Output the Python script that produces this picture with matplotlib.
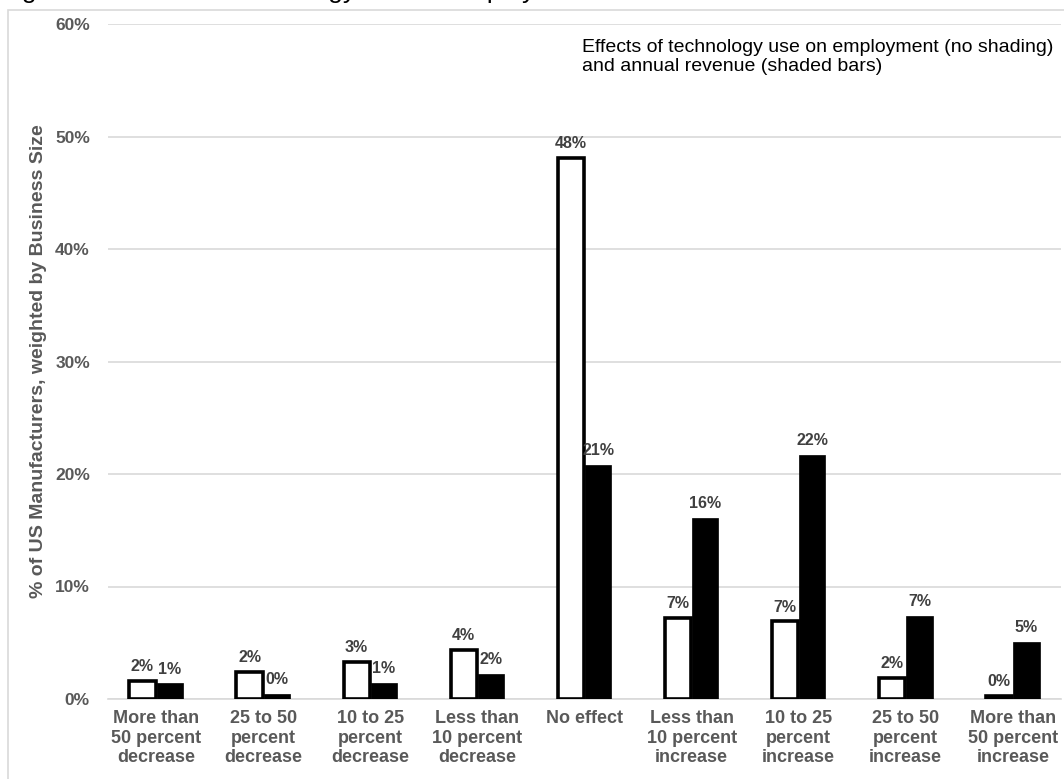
import matplotlib
matplotlib.use("Agg")
import matplotlib.pyplot as plt
from matplotlib.patches import Rectangle
import numpy as np

plt.rcParams['font.family'] = ['Liberation Sans', 'DejaVu Sans']

categories = ["More than\n50 percent\ndecrease", "25 to 50\npercent\ndecrease",
              "10 to 25\npercent\ndecrease", "Less than\n10 percent\ndecrease",
              "No effect", "Less than\n10 percent\nincrease", "10 to 25\npercent\nincrease",
              "25 to 50\npercent\nincrease", "More than\n50 percent\nincrease"]
employment = [0.016, 0.024, 0.033, 0.044, 0.481, 0.072, 0.069, 0.019, 0.003]
revenue = [0.014, 0.0048, 0.0145, 0.022, 0.208, 0.161, 0.217, 0.074, 0.051]
yticks = [0, 0.1, 0.2, 0.3, 0.4, 0.5, 0.6]

W, H = 1064, 779
fig = plt.figure(figsize=(W / 100, H / 100), dpi=100)

# caption line above the chart frame, mostly cut off by the page edge
fig.text(0.0, 1 + 2 / H, "Figure 3: Effects of technology use on employment and annual revenue of US manufacturers",
         fontsize=19, va='baseline', ha='left', color='black')

# chart frame
fig.patches.append(Rectangle((8 / W, -0.1), 1.2, 1 - 10 / H + 0.1, transform=fig.transFigure,
                             fill=False, edgecolor='#d9d9d9', linewidth=1.2, zorder=0))

ax = fig.add_axes([108 / W, 1 - 699 / H, (1061 - 108) / W, (699 - 24) / H])
x = np.arange(len(categories))
bw = 0.245
off = 0.128
b1 = ax.bar(x - off, employment, bw, facecolor='white', edgecolor='black', linewidth=2.6, zorder=3)
b2 = ax.bar(x + off, revenue, bw, facecolor='black', edgecolor='black', linewidth=0.5, zorder=3)

for bars, vals in ((b1, employment), (b2, revenue)):
    for rect, v in zip(bars, vals):
        ax.text(rect.get_x() + rect.get_width() / 2, v + 0.006, f"{v:.0%}",
                ha='center', va='bottom', fontsize=11.5, fontweight='bold', color='#404040')

ax.set_xlim(-0.45, 8.45)
ax.set_ylim(0, 0.6)
ax.set_yticks(yticks)
ax.set_yticklabels([f"{t:.0%}" for t in yticks], fontsize=12.5, fontweight='bold', color='#595959')
ax.set_xticks(x)
ax.set_xticklabels(categories, fontsize=13, fontweight='bold', color='#595959', linespacing=1.2, va='top')
ax.tick_params(axis='both', length=0)
ax.tick_params(axis='y', pad=13)
ax.tick_params(axis='x', pad=8)
ax.grid(axis='y', color='#d9d9d9', linewidth=1.2, zorder=0)
ax.set_axisbelow(True)
for s in ('top', 'right', 'left'):
    ax.spines[s].set_visible(False)
ax.spines['bottom'].set_color('#d9d9d9')
ax.spines['bottom'].set_linewidth(1.2)

ax.set_ylabel("% of US Manufacturers, weighted by Business Size", fontsize=14, fontweight='bold',
              color='#595959', labelpad=6)

ax.text(0.497, 0.978, "Effects of technology use on employment (no shading)\nand annual revenue (shaded bars)",
        transform=ax.transAxes, ha='left', va='top', fontsize=14, color='black', linespacing=1.2)

fig.savefig("out.png", dpi=100)
